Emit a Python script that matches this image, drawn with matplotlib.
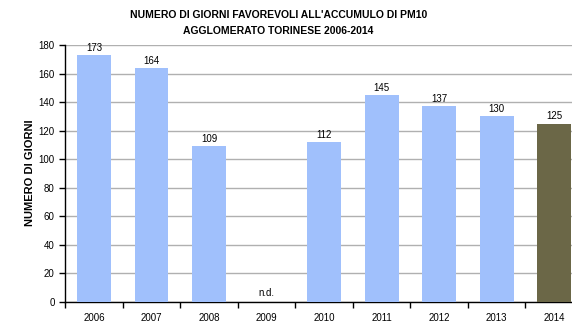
import numpy as np
import matplotlib
matplotlib.use('Agg')
import matplotlib.pyplot as plt

# Data
years = ['2006', '2007', '2008', '2009', '2010', '2011', '2012', '2013', '2014']
giorni = [173, 164, 109, None, 112, 145, 137, 130, 125]

plt.rcParams['font.family'] = ['Liberation Sans', 'DejaVu Sans']

fig = plt.figure(figsize=(5.72, 3.26), dpi=100)
# the plot area runs past the right edge of the picture, as in the original
ax = fig.add_axes([0.114, 0.0736, 0.905, 0.788])

x = np.arange(len(years))
vals = [v if v is not None else 0 for v in giorni]
colors = ['#a0c0fc'] * (len(years) - 1) + ['#6b6747']
ax.bar(x, vals, width=0.59, color=colors, zorder=3)

for xi, v in zip(x, giorni):
    if v is None:
        ax.text(xi, 3, 'n.d.', ha='center', va='bottom', fontsize=7)
    else:
        ax.text(xi, v + 1.5, str(v), ha='center', va='bottom', fontsize=7)

ax.set_xlim(-0.5, len(years) - 0.5)
ax.set_ylim(0, 180)
ax.set_yticks(range(0, 181, 20))
ax.yaxis.grid(True, color='#b0b0b0', linewidth=1, zorder=0)
ax.set_axisbelow(True)

ax.set_xticks(x)
ax.set_xticklabels(years, fontsize=7)
ax.set_xticks(np.arange(-0.5, len(years), 1), minor=True)
ax.tick_params(axis='x', which='major', length=0, pad=8)
ax.tick_params(axis='x', which='minor', length=4, width=1, direction='out')
ax.tick_params(axis='y', labelsize=7, length=4, width=1, direction='out')

for s in ['top', 'right']:
    ax.spines[s].set_visible(False)
ax.spines['left'].set_linewidth(1)
ax.spines['bottom'].set_linewidth(1)

fig.text(30 / 572, 1 - 173 / 326, 'NUMERO DI GIORNI', rotation=90,
         ha='center', va='center', fontsize=8, fontweight='bold')

fig.text(0.487, 0.955, "NUMERO DI GIORNI FAVOREVOLI ALL'ACCUMULO DI PM10",
         ha='center', va='center', fontsize=7.5, fontweight='bold')
fig.text(0.487, 0.905, 'AGGLOMERATO TORINESE 2006-2014',
         ha='center', va='center', fontsize=7.5, fontweight='bold')

fig.savefig('out.png', dpi=100)
